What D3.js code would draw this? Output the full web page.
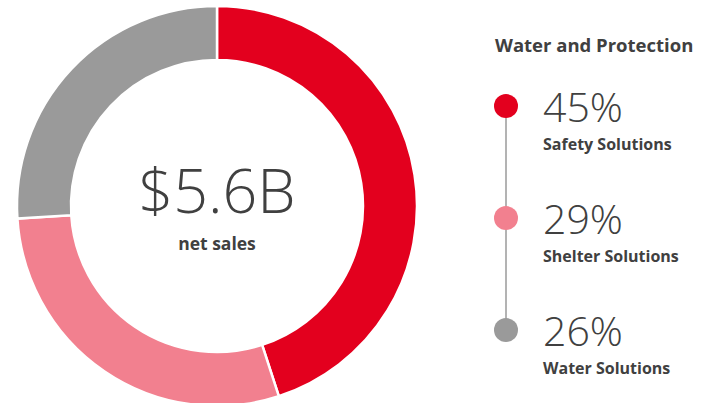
<!DOCTYPE html>
<html>
<head>
<meta charset="utf-8">
<script src="https://cdn.jsdelivr.net/npm/d3@7"></script>
<style>
  body { margin: 0; background: #fff; }
  svg { display: block; font-family: "Open Sans", "DejaVu Sans", sans-serif; }
</style>
</head>
<body>
<div id="graph"></div>
<script>
const w = 701;
const h = 403;

// data
const segments = ['Safety Solutions', 'Shelter Solutions', 'Water Solutions'];
const shares = [45, 29, 26];
const colors = ['#e3001e', '#f2808f', '#9a9a9a'];
const title = 'Water and Protection';
const total = '$5.6B';
const totalLabel = 'net sales';

const cx = 217, cy = 206;
const outerR = 200, innerR = 146;
const textColor = '#404040';

const data = segments.map((s, i) => ({ name: s, value: shares[i], color: colors[i] }));

const svg = d3.select('#graph')
  .append('svg')
  .attr('width', w)
  .attr('height', h);

const pie = d3.pie()
  .value(d => d.value)
  .sort(null);

const arc = d3.arc()
  .innerRadius(innerR)
  .outerRadius(outerR);

const donut = svg.append('g')
  .attr('transform', 'translate(' + cx + ',' + cy + ')');

donut.selectAll('path')
  .data(pie(data))
  .enter()
  .append('path')
  .attr('d', arc)
  .attr('fill', d => d.data.color)
  .attr('stroke', '#fff')
  .attr('stroke-width', 2.5);

// center text
donut.append('text')
  .attr('x', 0)
  .attr('y', 7)
  .attr('text-anchor', 'middle')
  .style('font-size', '61px')
  .style('font-weight', 300)
  .style('fill', textColor)
  .text(total);

donut.append('text')
  .attr('x', 0)
  .attr('y', 44)
  .attr('text-anchor', 'middle')
  .style('font-size', '17.5px')
  .style('font-weight', 'bold')
  .style('fill', textColor)
  .text(totalLabel);

// legend
const dotX = 506;
const textX = 543;
const yScale = d3.scalePoint()
  .domain(segments)
  .range([106, 330]);

svg.append('text')
  .attr('x', 495)
  .attr('y', 52)
  .style('font-size', '18.5px')
  .style('font-weight', 'bold')
  .style('fill', textColor)
  .text(title);

svg.append('line')
  .attr('x1', dotX)
  .attr('x2', dotX)
  .attr('y1', yScale(segments[0]))
  .attr('y2', yScale(segments[segments.length - 1]))
  .attr('stroke', '#9a9a9a')
  .attr('stroke-width', 1.5);

const legend = svg.selectAll('.legend')
  .data(data)
  .enter()
  .append('g')
  .attr('class', 'legend')
  .attr('transform', d => 'translate(0,' + yScale(d.name) + ')');

legend.append('circle')
  .attr('cx', dotX)
  .attr('cy', 0)
  .attr('r', 12)
  .attr('fill', d => d.color);

legend.append('text')
  .attr('x', textX)
  .attr('y', 16)
  .style('font-size', '41px')
  .style('font-weight', 300)
  .style('fill', textColor)
  .text(d => d.value + '%');

legend.append('text')
  .attr('x', textX)
  .attr('y', 44)
  .style('font-size', '16px')
  .style('font-weight', 'bold')
  .style('fill', textColor)
  .text(d => d.name);
</script>
</body>
</html>
